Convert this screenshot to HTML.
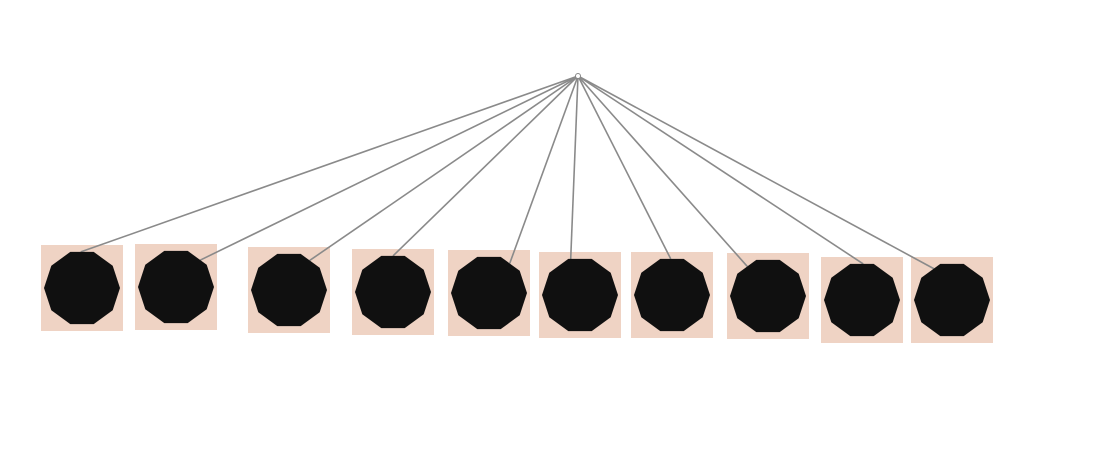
<!DOCTYPE html>
<html><head><meta charset="utf-8"><style>
html,body{margin:0;padding:0;background:#fff;width:1104px;height:475px;overflow:hidden}
svg{display:block}
</style></head><body>
<svg id="chart" width="1104" height="475" viewBox="0 0 1104 475" xmlns="http://www.w3.org/2000/svg">
<g id="boxes"></g>
<g id="edges"></g>
<g id="nodes"></g>
<circle cx="578" cy="76" r="2.5" fill="#fff" stroke="#888" stroke-width="1"/>
</svg>
<script>
const hub = [578, 76];
const nodeIds = ["n1","n2","n3","n4","n5","n6","n7","n8","n9","n10"];
const nodeX = [82,176,289,393,489,580,672,768,862,952];
const nodeY = [288,287,290,292,293,295,295,296,300,300];
// edge attachment angle on each node (degrees, 0 = right, -90 = top)
const portAngle = [-92,-48,-55,-90,-55,-105,-92,-125,-88,-120];
const NS = "http://www.w3.org/2000/svg";
const boxes = document.getElementById('boxes');
const edges = document.getElementById('edges');
const nodes = document.getElementById('nodes');
const R = 38;
function decagon(cx, cy){
  const p=[];
  for(let i=0;i<10;i++){const a=i*Math.PI/5;p.push((cx+R*Math.cos(a)).toFixed(1)+','+(cy+R*Math.sin(a)).toFixed(1));}
  return p.join(' ');
}
nodeIds.forEach((id,i)=>{
  const cx=nodeX[i], cy=nodeY[i];
  const r=document.createElementNS(NS,'rect');
  r.setAttribute('x',cx-41);r.setAttribute('y',cy-43);r.setAttribute('width',82);r.setAttribute('height',86);
  r.setAttribute('fill','#efd3c4');
  
  
  boxes.appendChild(r);
  const a=portAngle[i]*Math.PI/180;
  const l=document.createElementNS(NS,'line');
  l.setAttribute('x1',hub[0]);l.setAttribute('y1',hub[1]);
  l.setAttribute('x2',cx+R*0.95*Math.cos(a));l.setAttribute('y2',cy+R*0.95*Math.sin(a));
  l.setAttribute('stroke','#8a8a8a');l.setAttribute('stroke-width','1.6');
  
  
  edges.appendChild(l);
  const p=document.createElementNS(NS,'polygon');
  p.setAttribute('points',decagon(cx,cy));
  p.setAttribute('fill','#101010');
  
  
  nodes.appendChild(p);
});
</script>
</body></html>
